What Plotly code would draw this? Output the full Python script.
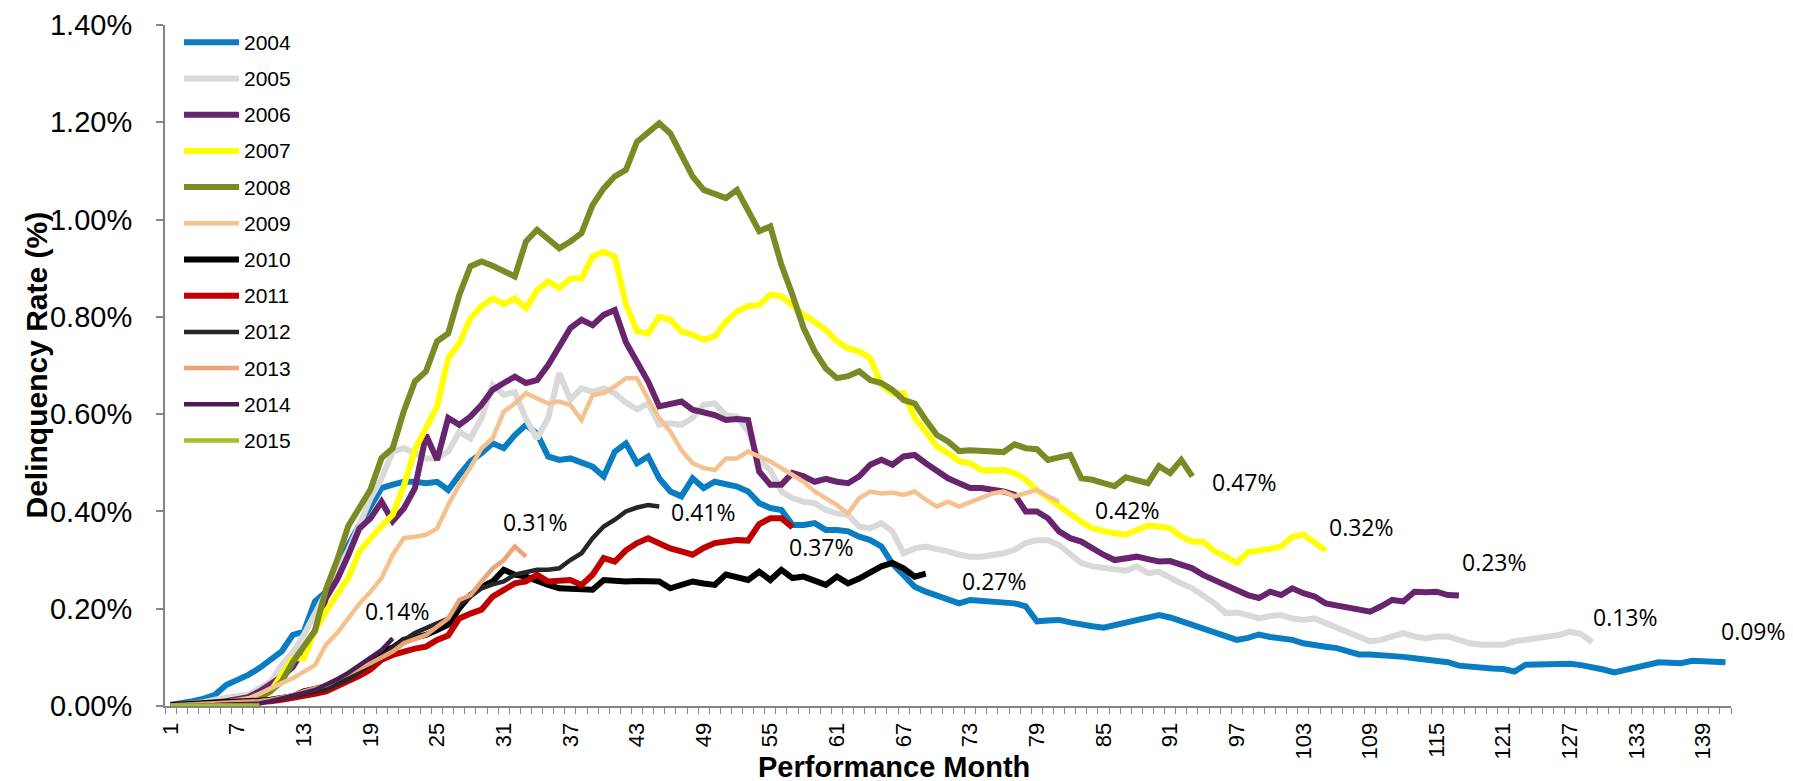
import plotly.graph_objects as go

# vintage years and their colours / line widths (legend order)
years = ["2004", "2005", "2006", "2007", "2008", "2009",
         "2010", "2011", "2012", "2013", "2014", "2015"]
colors = ["#0A7DC2", "#D9D9D9", "#68246D", "#FFFF00", "#7A8A24", "#F5C28F",
          "#000000", "#C00000", "#262626", "#EBA477", "#4B1C55", "#A4BE28"]
widths = [6, 6, 6, 6, 6, 4.5, 6, 6, 4.5, 4.5, 4.5, 4.5]

# delinquency rate (%) by performance month, one list per vintage
rate_2004 = [0.002, 0.005, 0.01, 0.015, 0.023, 0.043, 0.052, 0.064, 0.078, 0.095,
             0.112, 0.146, 0.153, 0.215, 0.235, 0.276, 0.331, 0.372, 0.413, 0.448,
             0.455, 0.461, 0.461, 0.458, 0.461, 0.444, 0.475, 0.503, 0.52, 0.54,
             0.53, 0.557, 0.578, 0.56, 0.513, 0.506, 0.509, 0.499, 0.492, 0.472,
             0.523, 0.54, 0.499, 0.513, 0.468, 0.441, 0.431, 0.468, 0.448, 0.461,
             0.455, 0.451, 0.441, 0.417, 0.407, 0.403, 0.372, 0.372, 0.376, 0.362,
             0.362, 0.359, 0.348, 0.341, 0.328, 0.292, 0.269, 0.245, 0.235, 0.228,
             0.22, 0.211, 0.218, 0.217, 0.216, 0.215, 0.211, 0.205, 0.174, 0.176,
             0.177, 0.172, 0.167, 0.164, 0.161, 0.166, 0.174, 0.178, 0.184, 0.187,
             0.182, 0.174, 0.165, 0.157, 0.15, 0.143, 0.136, 0.14, 0.147, 0.142,
             0.139, 0.136, 0.129, 0.127, 0.122, 0.119, 0.112, 0.106, 0.106, 0.105,
             0.104, 0.101, 0.098, 0.095, 0.09, 0.09, 0.083, 0.08, 0.078, 0.077,
             0.076, 0.071, 0.085, 0.086, 0.087, 0.088, 0.087, 0.084, 0.081, 0.075,
             0.069, 0.074, 0.078, 0.084, 0.09, 0.089, 0.088, 0.093, 0.092, 0.091,
             0.09]
rate_2005 = [0.0, 0.002, 0.005, 0.008, 0.013, 0.018, 0.02, 0.023, 0.035, 0.05,
             0.084, 0.11, 0.146, 0.19, 0.235, 0.276, 0.32, 0.372, 0.427, 0.468,
             0.523, 0.53, 0.52, 0.509, 0.509, 0.523, 0.564, 0.55, 0.592, 0.66,
             0.64, 0.645, 0.59, 0.55, 0.592, 0.684, 0.63, 0.653, 0.646, 0.653,
             0.643, 0.624, 0.61, 0.622, 0.578, 0.581, 0.578, 0.592, 0.619, 0.622,
             0.598, 0.595, 0.565, 0.506, 0.485, 0.441, 0.427, 0.42, 0.417, 0.403,
             0.396, 0.393, 0.369, 0.365, 0.376, 0.359, 0.314, 0.324, 0.328, 0.324,
             0.318, 0.311, 0.307, 0.307, 0.31, 0.314, 0.321, 0.335, 0.341, 0.341,
             0.331, 0.311, 0.294, 0.287, 0.285, 0.28, 0.278, 0.287, 0.273, 0.276,
             0.263, 0.252, 0.242, 0.228, 0.211, 0.191, 0.192, 0.187, 0.18, 0.185,
             0.187, 0.18, 0.177, 0.18, 0.17, 0.16, 0.153, 0.143, 0.133, 0.136,
             0.143, 0.15, 0.143, 0.139, 0.143, 0.143, 0.136, 0.129, 0.126, 0.126,
             0.126, 0.133, 0.136, 0.14, 0.145, 0.146, 0.153, 0.148, 0.131]
rate_2006 = [0.0, 0.0, 0.002, 0.004, 0.006, 0.01, 0.014, 0.018, 0.03, 0.045,
             0.06, 0.08, 0.115, 0.154, 0.222, 0.26, 0.31, 0.365, 0.386, 0.42,
             0.38, 0.406, 0.448, 0.557, 0.506, 0.592, 0.578, 0.595, 0.619, 0.65,
             0.664, 0.677, 0.664, 0.67, 0.701, 0.742, 0.777, 0.794, 0.783, 0.804,
             0.814, 0.748, 0.708, 0.667, 0.616, 0.62, 0.626, 0.609, 0.603, 0.598,
             0.588, 0.59, 0.588, 0.482, 0.455, 0.455, 0.479, 0.472, 0.461, 0.467,
             0.461, 0.458, 0.472, 0.496, 0.506, 0.496, 0.513, 0.516, 0.499, 0.485,
             0.468, 0.458, 0.448, 0.448, 0.445, 0.441, 0.434, 0.4, 0.4, 0.386,
             0.359, 0.345, 0.338, 0.324, 0.311, 0.3, 0.304, 0.307, 0.302, 0.297,
             0.298, 0.29, 0.283, 0.269, 0.259, 0.249, 0.239, 0.228, 0.222, 0.235,
             0.228, 0.242, 0.232, 0.225, 0.211, 0.207, 0.201, 0.2, 0.194, 0.205,
             0.218, 0.215, 0.235, 0.234, 0.235, 0.228, 0.227]
rate_2007 = [0.0, 0.0, 0.0, 0.0, 0.003, 0.005, 0.007, 0.01, 0.018, 0.03,
             0.064, 0.098, 0.098, 0.154, 0.195, 0.23, 0.263, 0.318, 0.345, 0.37,
             0.393, 0.452, 0.527, 0.57, 0.616, 0.715, 0.746, 0.797, 0.822, 0.838,
             0.826, 0.838, 0.818, 0.855, 0.873, 0.859, 0.879, 0.879, 0.924, 0.934,
             0.924, 0.826, 0.77, 0.766, 0.8, 0.794, 0.77, 0.763, 0.753, 0.76,
             0.79, 0.811, 0.822, 0.824, 0.846, 0.842, 0.822, 0.804, 0.79, 0.773,
             0.75, 0.735, 0.729, 0.715, 0.66, 0.643, 0.643, 0.592, 0.564, 0.533,
             0.52, 0.503, 0.499, 0.485, 0.484, 0.485, 0.479, 0.465, 0.444, 0.427,
             0.41, 0.393, 0.379, 0.365, 0.359, 0.355, 0.352, 0.362, 0.371, 0.369,
             0.365, 0.348, 0.338, 0.337, 0.318, 0.307, 0.294, 0.316, 0.318, 0.323,
             0.328, 0.348, 0.352, 0.335, 0.32]
rate_2008 = [0.0, 0.0, 0.0, 0.002, 0.004, 0.007, 0.008, 0.01, 0.016, 0.03,
             0.05, 0.09, 0.12, 0.155, 0.24, 0.3, 0.37, 0.41, 0.445, 0.51,
             0.53, 0.606, 0.667, 0.688, 0.75, 0.766, 0.845, 0.904, 0.914, 0.905,
             0.895, 0.883, 0.955, 0.979, 0.96, 0.941, 0.955, 0.972, 1.03, 1.064,
             1.089, 1.102, 1.16, 1.181, 1.198, 1.177, 1.13, 1.089, 1.061, 1.052,
             1.044, 1.061, 1.02, 0.976, 0.986, 0.907, 0.845, 0.777, 0.729, 0.694,
             0.674, 0.678, 0.688, 0.67, 0.664, 0.65, 0.629, 0.622, 0.588, 0.557,
             0.544, 0.524, 0.526, 0.524, 0.523, 0.522, 0.538, 0.53, 0.528, 0.506,
             0.511, 0.516, 0.468, 0.465, 0.458, 0.452, 0.47, 0.465, 0.458, 0.493,
             0.479, 0.506, 0.472]
rate_2009 = [0.0, 0.0, 0.0, 0.002, 0.005, 0.008, 0.012, 0.016, 0.025, 0.037,
             0.047, 0.057, 0.07, 0.084, 0.126, 0.15, 0.18, 0.21, 0.235, 0.263,
             0.311, 0.345, 0.348, 0.352, 0.365, 0.413, 0.455, 0.49, 0.53, 0.55,
             0.605, 0.622, 0.643, 0.633, 0.622, 0.626, 0.619, 0.588, 0.639, 0.643,
             0.657, 0.674, 0.674, 0.631, 0.592, 0.564, 0.526, 0.499, 0.489, 0.485,
             0.509, 0.509, 0.523, 0.513, 0.503, 0.489, 0.475, 0.461, 0.441, 0.427,
             0.413, 0.396, 0.427, 0.441, 0.437, 0.439, 0.434, 0.441, 0.424, 0.41,
             0.42, 0.41, 0.42, 0.428, 0.437, 0.441, 0.431, 0.437, 0.444, 0.431,
             0.42]
rate_2010 = [0.002, 0.004, 0.005, 0.006, 0.007, 0.008, 0.008, 0.009, 0.011, 0.013,
             0.018, 0.02, 0.03, 0.035, 0.04, 0.05, 0.064, 0.078, 0.091, 0.112,
             0.12, 0.136, 0.14, 0.146, 0.156, 0.167, 0.201, 0.228, 0.245, 0.256,
             0.28, 0.27, 0.266, 0.256, 0.249, 0.242, 0.242, 0.24, 0.239, 0.259,
             0.256, 0.256, 0.257, 0.258, 0.256, 0.242, 0.25, 0.256, 0.252, 0.249,
             0.27, 0.265, 0.259, 0.276, 0.259, 0.28, 0.263, 0.266, 0.258, 0.249,
             0.266, 0.252, 0.262, 0.276, 0.287, 0.294, 0.283, 0.266, 0.272]
rate_2011 = [0.0, 0.001, 0.002, 0.003, 0.004, 0.005, 0.005, 0.006, 0.008, 0.01,
             0.013, 0.016, 0.02, 0.025, 0.03, 0.04, 0.05, 0.062, 0.075, 0.095,
             0.105, 0.112, 0.118, 0.122, 0.136, 0.145, 0.18, 0.19, 0.198, 0.225,
             0.24, 0.252, 0.256, 0.27, 0.256, 0.257, 0.259, 0.249, 0.27, 0.304,
             0.297, 0.32, 0.335, 0.345, 0.335, 0.324, 0.318, 0.311, 0.325, 0.335,
             0.338, 0.341, 0.34, 0.374, 0.386, 0.386, 0.367]
rate_2012 = [0.001, 0.002, 0.003, 0.004, 0.005, 0.006, 0.007, 0.008, 0.01, 0.012,
             0.015, 0.02, 0.025, 0.03, 0.035, 0.045, 0.055, 0.07, 0.085, 0.1,
             0.12, 0.135, 0.15, 0.16, 0.17, 0.18, 0.208, 0.225, 0.242, 0.25,
             0.256, 0.27, 0.275, 0.28, 0.28, 0.283, 0.3, 0.314, 0.345, 0.369,
             0.383, 0.4, 0.408, 0.413, 0.41]
rate_2013 = [0.001, 0.002, 0.003, 0.004, 0.005, 0.006, 0.007, 0.008, 0.01, 0.013,
             0.017, 0.022, 0.03, 0.036, 0.043, 0.055, 0.067, 0.077, 0.088, 0.1,
             0.112, 0.129, 0.138, 0.146, 0.163, 0.18, 0.218, 0.228, 0.256, 0.283,
             0.3, 0.328, 0.307]
rate_2014 = [0.0, 0.0, 0.0, 0.001, 0.002, 0.003, 0.003, 0.004, 0.005, 0.01,
             0.015, 0.02, 0.027, 0.033, 0.043, 0.055, 0.068, 0.084, 0.1, 0.115,
             0.139]
rate_2015 = [0.001, 0.001, 0.001, 0.001, 0.001, 0.001, 0.001, 0.001, 0.001]

series = [rate_2004, rate_2005, rate_2006, rate_2007, rate_2008, rate_2009,
          rate_2010, rate_2011, rate_2012, rate_2013, rate_2014, rate_2015]

# pixel offsets of the end-of-line value labels (None = no label)
label_offsets = [(28, 31), (33, 25), (36, 34), (36, 23), (52, -6), (68, -8),
                 (69, -7), (29, -20), (44, -5), (10, 35), (5, 27), None]

N_MONTHS = 141   # category slots on the x axis
W, H = 1793, 781
L, R, T, B = 157, 70, 17, 83
PW, PH = W - L - R, H - T - B


def px_x(x):
    return (x - L) / PW


def px_y(y):
    return (H - B - y) / PH


fig = go.Figure()
for year, vals, col, lw in zip(years, series, colors, widths):
    fig.add_trace(go.Scatter(
        x=list(range(1, len(vals) + 1)), y=vals, mode="lines", name=year,
        line=dict(color=col, width=lw), showlegend=False, hoverinfo="skip"
    ))

annotations = []
for vals, off in zip(series, label_offsets):
    if off is None:
        continue
    annotations.append(dict(
        x=len(vals), y=vals[-1], xref="x", yref="y", text=f"{vals[-1]:.2f}%",
        showarrow=False, xshift=off[0], yshift=off[1],
        font=dict(family="Open Sans", size=23, color="#000000")
    ))

# legend drawn by hand (long line samples like the original)
shapes = []
for i, (year, col, lw) in enumerate(zip(years, colors, widths)):
    yy = px_y(34.3 + 36.2 * i)
    shapes.append(dict(type="line", xref="paper", yref="paper",
                       x0=px_x(176), x1=px_x(231), y0=yy, y1=yy,
                       line=dict(color=col, width=lw)))
    annotations.append(dict(x=px_x(234), y=yy, xref="paper", yref="paper",
                            text=year, showarrow=False, xanchor="left",
                            yanchor="middle",
                            font=dict(family="Liberation Sans, Arial", size=21,
                                      color="#000000")))

annotations.append(dict(x=px_x(27.5), y=px_y(357), xref="paper", yref="paper",
                        text="<b>Delinquency Rate (%)</b>", textangle=-90,
                        showarrow=False, xanchor="center", yanchor="middle",
                        font=dict(family="Liberation Sans, Arial", size=30,
                                  color="#000000")))
annotations.append(dict(x=px_x(886), y=px_y(759), xref="paper", yref="paper",
                        text="<b>Performance Month</b>", showarrow=False,
                        xanchor="center", yanchor="middle",
                        font=dict(family="Liberation Sans, Arial", size=29,
                                  color="#000000")))

axis_grey = "#868686"
fig.update_layout(
    width=W, height=H,
    margin=dict(l=L, r=R, t=T, b=B, autoexpand=False),
    paper_bgcolor="white", plot_bgcolor="white",
    annotations=annotations, shapes=shapes,
    xaxis=dict(
        range=[0.5, N_MONTHS + 0.5], tickmode="linear", tick0=1, dtick=6,
        tickangle=-90, ticks="", showgrid=False, zeroline=False,
        showline=True, linecolor=axis_grey, linewidth=2, automargin=False,
        ticklabelstandoff=6,
        tickfont=dict(family="Liberation Sans, Arial", size=22, color="#000000"),
        minor=dict(tickmode="linear", tick0=0.5, dtick=1, ticks="outside",
                   ticklen=6, tickwidth=1, tickcolor=axis_grey, showgrid=False),
    ),
    yaxis=dict(
        range=[0, 1.4], tickmode="linear", tick0=0, dtick=0.2,
        tickformat=".2f", ticksuffix="%", ticks="outside", ticklen=7,
        tickwidth=2, tickcolor=axis_grey, showgrid=False, zeroline=False,
        showline=True, linecolor=axis_grey, linewidth=2, automargin=False,
        ticklabelstandoff=18,
        tickfont=dict(family="Liberation Sans, Arial", size=29, color="#000000"),
    ),
)

fig.write_html("out.html")
